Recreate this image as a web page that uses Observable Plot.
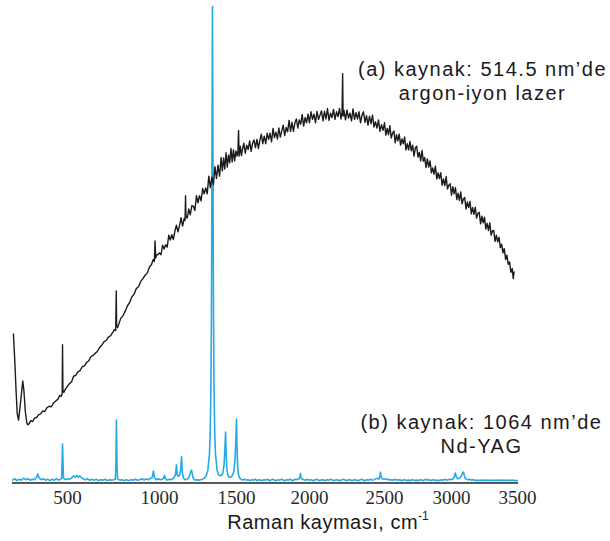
<!DOCTYPE html>
<html>
<head>
<meta charset="utf-8">
<script src="https://cdn.jsdelivr.net/npm/d3@7"></script>
<script src="https://cdn.jsdelivr.net/npm/@observablehq/plot@0.6"></script>
<style>
  html, body { margin: 0; padding: 0; background: #fff; }
  #wrap { position: relative; width: 610px; height: 541px; }
  #chart g[aria-label="text"] text { letter-spacing: 1.5px; }
  #xlabel { position: absolute; top: 510px; left: 328px; transform: translateX(-50%);
    font-family: "Liberation Sans", Arial, sans-serif; font-size: 20px; letter-spacing: 0.5px; color: #1a1a1a; white-space: nowrap; line-height: 1.2; }
  #xlabel sup { font-size: 12px; vertical-align: 9px; line-height: 0; letter-spacing: 0; }
</style>
</head>
<body>
<div id="wrap"><div id="chart"></div><div id="xlabel">Raman kayması, cm<sup>-1</sup></div></div>
<script>
// Raman shift tick labels (cm-1) as printed on the reference axis
const xTicks = [500, 1000, 1500, 2000, 2500, 3000, 3500];

// (a) 514.5 nm argon-ion laser excitation: [Raman shift, relative intensity]
const argonLaser = [
[205,31.3],[212,26],[220,19],[226,14.5],[233,13.2],[240,15.5],[248,18.5],[256,21.4],[262,19.5],[270,15],[278,12.6],[284,12.2],[292,12.5],[300,13.1],[310,12.9],[320,13.6],[330,13.7],[342,14.3],[353,14.5],[365,15.1],[376,15.0],[388,15.8],[400,16.1],[412,16.0],[424,16.8],[436,17.2],[448,17.6],[458,18.4],[466,18.2],[471,18.8],[473,29.0],[475,19.5],[480,19.0],[490,19.8],[500,20.3],[512,20.9],[522,21.2],[533,22.4],[545,22.6],[556,23.3],[568,23.6],[580,24.4],[592,24.6],[604,25.3],[615,25.6],[627,26.5],[639,26.8],[650,27.2],[662,27.6],[674,28.4],[686,28.9],[698,29.6],[710,29.9],[722,30.6],[734,30.9],[746,31.6],[755,32.2],[762,32.0],[765,40.3],[767,33.0],[772,32.6],[780,33.5],[790,34.6],[800,35.0],[812,35.9],[826,37.2],[838,37.9],[850,39.1],[862,39.6],[874,40.8],[886,41.2],[898,42.3],[910,42.9],[922,43.6],[934,44.1],[946,45.4],[956,45.8],[966,46.9],[972,46.5],[976,50.8],[979,47.2],[986,47.9],[994,48.0],
[1000,48.3],[1010,47.9],[1020,49.9],[1030,49.1],[1040,50.0],[1050,49.5],[1060,52.0],[1070,51.0],[1080,52.1],[1090,51.1],[1100,52.9],[1110,54.1],[1120,52.7],[1130,54.0],[1140,55.7],[1150,53.9],[1160,55.5],[1166,55.1],[1169,60.3],[1172,55.9],[1180,55.6],[1190,57.5],[1200,56.3],[1210,58.2],[1220,58.1],[1230,57.2],[1240,60.3],[1250,58.8],[1260,60.3],[1270,59.2],[1280,61.8],[1290,60.7],[1300,61.9],[1310,60.7],[1320,64.4],[1330,62.0],[1340,64.2],[1350,62.6],[1360,66.4],[1370,63.9],[1380,66.7],[1390,64.4],[1400,68.3],[1408,65.5],[1416,68.2],[1424,65.9],[1432,69.3],[1440,66.3],[1448,68.8],[1456,67.2],[1464,70.2],[1472,67.4],[1480,69.9],[1488,67.6],[1496,69.7],[1504,68.6],[1510,69.7],[1514,74.0],[1518,68.6],[1526,70.7],[1534,68.7],[1542,70.2],[1550,71.3],[1560,69.2],[1570,70.9],[1580,70.0],[1590,71.8],[1600,69.6],[1610,71.3],[1620,72.0],[1630,70.4],[1640,72.1],[1650,70.2],[1660,71.9],[1670,73.2],[1680,71.2],[1690,72.8],[1700,71.2],[1710,73.4],[1720,72.1],[1730,73.4],[1740,71.6],[1750,74.4],[1760,72.5],[1770,73.6],[1780,72.2],[1790,74.5],[1800,72.6],[1810,73.9],[1820,75.1],[1830,72.9],[1840,74.6],[1850,73.7],[1860,76.1],[1870,73.8],[1880,75.7],[1890,73.8],[1900,75.6],[1910,76.4],[1920,74.5],[1930,76.2],[1940,75.3],[1950,77.3],[1960,74.9],[1970,76.7],[1980,75.6],[1990,77.4],
[2000,75.6],[2010,77.9],[2020,76.3],[2030,77.4],[2040,75.6],[2050,78.0],[2060,76.3],[2070,77.2],[2080,78.1],[2090,76.0],[2100,78.0],[2110,76.4],[2120,78.6],[2130,76.1],[2140,77.6],[2150,76.7],[2160,78.4],[2170,76.3],[2180,77.9],[2190,76.9],[2200,78.6],[2210,76.4],[2217,77.8],[2221,85.9],[2224,77.0],[2230,78.2],[2240,76.2],[2250,78.3],[2260,76.6],[2270,77.6],[2280,76.0],[2290,78.5],[2300,76.3],[2310,77.7],[2320,76.4],[2330,77.9],[2340,75.6],[2350,77.2],[2360,77.9],[2370,75.7],[2380,77.1],[2390,75.1],[2400,77.0],[2410,75.4],[2420,77.2],[2430,74.7],[2440,75.8],[2450,74.5],[2460,76.2],[2470,73.8],[2480,75.2],[2490,74.0],
[2500,75.6],[2510,73.0],[2520,74.4],[2530,73.1],[2540,75.0],[2550,72.4],[2560,73.4],[2570,73.9],[2580,71.4],[2590,73.1],[2600,71.8],[2610,73.2],[2620,70.9],[2630,72.2],[2640,71.2],[2650,72.6],[2660,69.9],[2670,71.2],[2680,69.9],[2690,71.7],[2700,69.7],[2710,70.9],[2720,68.6],[2730,70.3],[2740,70.7],[2750,68.4],[2760,69.4],[2770,67.6],[2780,69.8],[2790,67.5],[2800,68.3],[2810,66.2],[2820,68.0],[2830,66.3],[2840,67.6],[2850,65.1],[2860,66.1],[2870,64.8],[2880,66.5],[2890,63.8],[2900,65.1],[2910,63.9],[2920,65.1],[2930,62.5],[2940,63.8],[2950,62.4],[2960,64.3],[2970,61.7],[2980,62.5],[2990,62.8],
[3000,60.4],[3010,62.2],[3020,60.7],[3030,62.0],[3040,59.5],[3050,60.8],[3060,59.3],[3070,61.1],[3080,58.6],[3090,59.6],[3100,59.9],[3110,57.5],[3120,59.0],[3130,57.8],[3140,59.1],[3150,56.5],[3160,57.8],[3170,56.4],[3180,57.9],[3190,55.6],[3200,56.6],[3210,56.8],[3220,54.4],[3230,56.0],[3240,54.6],[3250,55.8],[3260,53.3],[3270,54.5],[3280,53.0],[3290,54.6],[3300,52.0],[3310,52.9],[3320,53.0],[3330,50.7],[3340,52.0],[3350,50.6],[3360,51.6],[3370,49.4],[3380,50.1],[3390,48.3],[3400,49.2],[3410,46.9],[3420,47.8],[3430,45.9],[3440,46.4],[3450,44.2],[3460,45.0],[3468,42.9],[3474,44.3]
];

// (b) 1064 nm Nd-YAG excitation: [Raman shift, relative intensity]
const ndYag = [
[200,0.6],[212,0.9],[224,0.5],[236,0.8],[248,0.6],[260,1.0],[272,0.7],[284,0.9],[296,0.6],[308,0.8],[320,0.7],[330,1.1],[338,1.9],[346,1.0],[356,0.7],[368,0.9],[380,0.6],[392,0.8],[404,0.5],[416,0.8],[428,0.6],[440,0.9],[452,0.6],[462,0.8],[468,1.0],[473,8.2],[478,1.0],[488,0.7],[500,0.9],[512,0.8],[524,1.1],[534,1.5],[542,1.2],[550,1.6],[558,1.2],[566,1.5],[574,1.2],[584,0.9],[596,0.7],[608,0.9],[620,0.6],[632,0.8],[644,0.6],[656,0.8],[668,0.5],[680,0.7],[692,0.6],[704,0.8],[716,0.5],[728,0.7],[740,0.6],[752,0.7],[760,0.8],[763,4.0],[766,13.2],[769,4.0],[772,0.9],[784,0.6],[796,0.7],[808,0.5],[820,0.7],[832,0.5],[844,0.7],[856,0.6],[868,0.8],[880,0.6],[892,0.7],[904,0.9],[916,0.6],[928,0.9],[940,0.7],[952,1.0],[960,1.1],[967,2.5],[973,1.1],[982,0.7],[994,0.9],[1006,0.7],[1018,0.8],[1026,1.0],[1032,1.6],[1038,0.9],[1050,0.6],[1062,0.8],[1074,0.7],[1086,0.9],[1096,1.2],[1104,1.8],[1110,3.8],[1115,1.8],[1122,1.4],[1130,1.6],[1138,2.8],[1143,5.5],[1148,2.2],[1156,1.0],[1166,0.7],[1178,0.8],[1190,1.1],[1198,1.8],[1204,2.6],[1208,2.7],[1213,1.9],[1220,0.9],[1232,0.6],[1244,0.7],[1256,0.6],[1268,0.7],[1280,0.8],[1290,1.0],[1299,1.3],[1304,1.6],[1314,2.7],[1324,5.9],[1329,10],[1334,20],[1337,34],[1339,50],[1341,73.5],[1344,100],[1347,73.5],[1349,50],[1351,34],[1354,20],[1359,10],[1364,5.9],[1374,2.7],[1384,1.7],[1394,1.5],[1404,1.6],[1412,2.2],[1419,3.8],[1424,6.5],[1429,10.7],[1433,6.0],[1437,3.0],[1444,1.6],[1452,1.2],[1460,1.2],[1468,1.4],[1476,1.8],[1484,2.6],[1490,4.8],[1495,8.5],[1500,13.4],[1504,7.0],[1508,3.4],[1514,1.8],[1522,1.0],[1532,0.8],
[1544,0.6],[1556,0.8],[1568,0.6],[1580,0.7],[1592,0.5],[1604,0.7],[1616,0.6],[1628,0.8],[1640,0.5],[1652,0.7],[1664,0.6],[1676,0.5],[1688,0.7],[1700,0.6],[1712,0.8],[1724,0.5],[1736,0.6],[1748,0.8],[1760,0.6],[1772,0.5],[1784,0.7],[1796,0.6],[1808,0.8],[1820,0.6],[1832,0.5],[1844,0.7],[1856,0.6],[1868,0.8],[1880,0.5],[1892,0.6],[1904,0.8],[1916,0.7],[1928,0.9],[1934,1.2],[1938,2.0],[1942,1.1],[1950,0.8],[1962,0.7],[1974,0.6],[1986,0.8],[1998,0.6],[2010,0.7],[2022,0.5],[2034,0.6],[2046,0.8],[2058,0.6],[2070,0.5],[2082,0.7],[2094,0.6],[2106,0.5],[2118,0.7],[2130,0.6],[2142,0.8],[2154,0.6],[2166,0.5],[2178,0.7],[2190,0.6],[2202,0.5],[2214,0.6],[2226,0.8],[2238,0.6],[2250,0.5],[2262,0.7],[2274,0.6],[2286,0.5],[2298,0.7],[2310,0.6],[2322,0.5],[2334,0.6],[2346,0.8],[2358,0.6],[2370,0.5],[2382,0.7],[2394,0.6],[2406,0.8],[2418,0.6],[2430,0.7],[2442,0.9],[2452,1.0],[2462,0.8],[2468,1.2],[2473,2.3],[2477,1.3],[2484,0.9],[2496,0.8],[2508,0.9],[2520,0.7],[2532,0.8],[2544,0.6],[2556,0.7],[2568,0.6],[2580,0.8],[2592,0.6],[2604,0.7],[2616,0.6],[2628,0.5],[2640,0.6],[2652,0.7],[2664,0.5],[2676,0.6],[2688,0.5],[2700,0.6],[2712,0.7],[2724,0.5],[2736,0.6],[2748,0.5],[2760,0.6],[2772,0.7],[2784,0.5],[2796,0.6],[2808,0.8],[2820,0.6],[2832,0.7],[2844,0.5],[2856,0.6],[2868,0.7],[2880,0.5],[2892,0.6],[2904,0.5],[2916,0.6],[2928,0.7],[2940,0.6],[2952,0.8],[2964,0.6],[2976,0.7],[2988,0.8],[3000,0.7],[3012,0.9],[3020,1.2],[3026,1.9],[3030,2.1],[3035,1.4],[3042,1.0],[3050,0.9],[3060,1.0],[3070,1.3],[3078,1.7],[3085,2.2],[3091,2.3],[3097,1.6],[3104,1.0],[3114,0.8],[3126,0.7],[3138,0.8],[3150,0.6],[3162,0.7],[3174,0.6],[3186,0.5],[3198,0.6],[3210,0.5],[3222,0.6],[3234,0.5],[3246,0.6],[3258,0.5],[3270,0.6],[3282,0.5],[3294,0.6],[3306,0.5],[3318,0.6],[3330,0.5],[3342,0.6],[3354,0.5],[3366,0.6],[3378,0.5],[3390,0.6],[3402,0.5],[3414,0.6],[3426,0.5],[3438,0.6],[3450,0.5],[3462,0.6],[3474,0.5],[3486,0.5],[3500,0.5]
];

const labelA = "(a) kaynak: 514.5 nm’de\nargon-iyon lazer";
const labelB = "(b) kaynak: 1064 nm’de\nNd-YAG";

// The printed axis labels are not evenly spaced, so the x scale is piecewise
const xDomain = [200, 500, 1000, 1500, 2000, 2500, 3000, 3500];
const xRange  = [12, 67, 159, 236, 309, 384, 451, 517];

const chart = Plot.plot({
  width: 610,
  height: 510,
  marginLeft: 12,
  marginRight: 92,
  marginTop: 6,
  marginBottom: 27.5,
  style: { background: "#fff", fontFamily: "Liberation Sans, Arial, sans-serif" },
  x: { type: "linear", domain: xDomain, range: xRange },
  y: { domain: [0, 100], axis: null },
  marks: [
    Plot.axisX({ ticks: xTicks, tickSize: 0, tickPadding: 7, tickFormat: d => String(d), label: null,
      fontFamily: "Liberation Serif, Times New Roman, serif", fontSize: 19, fill: "#2a2a2a" }),
    Plot.ruleY([0], { stroke: "#222", strokeWidth: 1.3 }),
    Plot.line(ndYag, { x: d => d[0], y: d => d[1], stroke: "#27a9e6", strokeWidth: 1.6 }),
    Plot.line(argonLaser, { x: d => d[0], y: d => d[1], stroke: "#1c1c1c", strokeWidth: 1.4 }),
    Plot.text([labelA], { x: 3235, y: 88.9, text: d => d, lineAnchor: "top", lineHeight: 1.2,
      fontSize: 20, fill: "#1a1a1a", fontFamily: "Liberation Sans, Arial, sans-serif" }),
    Plot.text([labelB], { x: 3227, y: 15.0, text: d => d, lineAnchor: "top", lineHeight: 1.2,
      fontSize: 20, fill: "#1a1a1a", fontFamily: "Liberation Sans, Arial, sans-serif" })
  ]
});
document.getElementById("chart").appendChild(chart);
</script>
</body>
</html>
